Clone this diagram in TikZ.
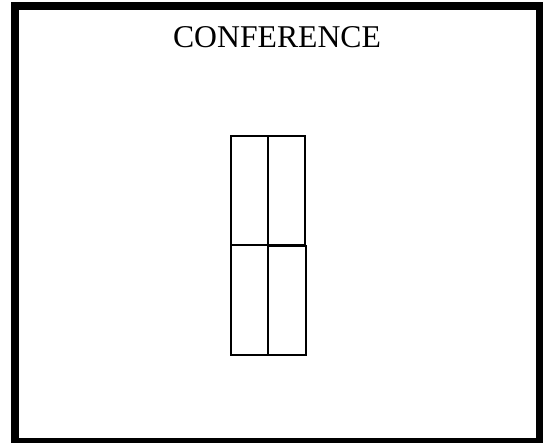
\documentclass[tikz,border=0pt]{standalone}
\usepackage{fontspec}
\setmainfont{Liberation Serif}
\begin{document}
\begin{tikzpicture}[x=1pt,y=1pt,
  frame/.style={draw=black,line width=8pt},
  cell/.style={draw=black,line width=2pt}]
\useasboundingbox (0,0) rectangle (543,443);
\clip (0,0) rectangle (543,443);
\fill[white] (0,0) rectangle (543,443);
\draw[frame] (14.5,437) rectangle (540,1);
\node[anchor=base,inner sep=0pt,font=\fontsize{31.7}{38}\selectfont] (title) at (277,395) {CONFERENCE};
\draw[cell] (231,307) rectangle (268,198) coordinate (tl);
\draw[cell] (268,307) rectangle (304.5,198) coordinate (tr);
\draw[cell] (231,198) rectangle (268,87.5) coordinate (bl);
\draw[cell] (268,197) rectangle (305.5,87.5) coordinate (br);
\end{tikzpicture}
\end{document}
